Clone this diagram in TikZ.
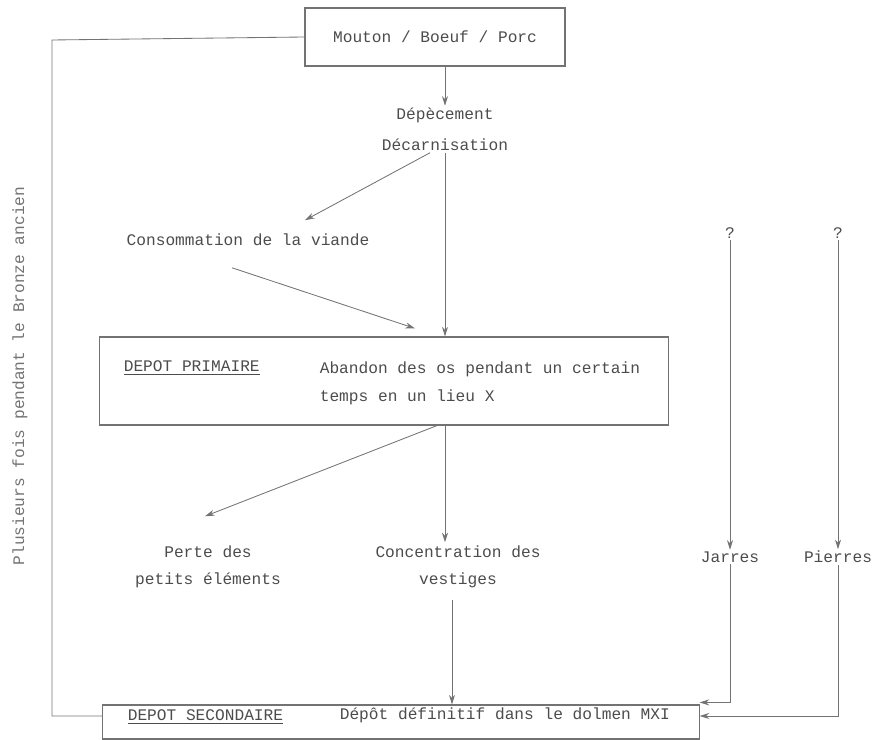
\documentclass[tikz,border=0pt]{standalone}
\usepackage{fontspec}
\setmonofont{Liberation Mono}
\usetikzlibrary{calc,positioning,arrows.meta}

\begin{document}
\begin{tikzpicture}
	[x=0.025cm,y=-0.025cm,>={Stealth[length=2.4mm,width=1.5mm]},gray!90!black,line width=0.6pt,
	every node/.style={font=\ttfamily\fontsize{11.5}{14}\selectfont,text=black!70,inner sep=1pt},
	boite/.style={draw,thick,minimum width=#1,inner sep=0pt},
	fleche/.style={->}]

	\useasboundingbox (0,0) rectangle (874,740);

	% boites
	\node[boite=6.5cm,minimum height=1.45cm] (animaux) at (435,37) {Mouton / Boeuf / Porc};
	\node[boite=14.2cm,minimum height=2.2cm] (primaire) at (384,381) {};
	\node[boite=14.9cm,minimum height=0.85cm] (secondaire) at (401,722) {};

	% textes
	\node (depec) at (445,115) {Dépècement};
	\node (decarn) at (445,145) {Décarnisation};
	\node (conso) at (248,240) {Consommation de la viande};
	\node[anchor=west] (titreI) at (122,368) {\underline{DEPOT PRIMAIRE}};
	\node[anchor=west,align=left] (abandon) at (318,383)
		{Abandon des os pendant un certain\\[6pt]temps en un lieu X};
	\node[align=center] (perte) at (208,567) {Perte des\\[5pt]petits éléments};
	\node[align=center] (concentr) at (458,567) {Concentration des\\[5pt]vestiges};
	\node (q1) at (730,233) {?};
	\node (q2) at (838,233) {?};
	\node (jarres) at (730,557) {Jarres};
	\node (pierres) at (838,557) {Pierres};
	\node[anchor=west] (titreII) at (126,717) {\underline{DEPOT SECONDAIRE}};
	\node[anchor=west] (definitif) at (338,715) {Dépôt définitif dans le dolmen MXI};
	\node[rotate=90,text=black!55] (repet) at (20,376) {Plusieurs fois pendant le Bronze ancien};

	% liaisons
	\coordinate (c1) at ($(concentr.south)+(-6,10)$);
	\draw[fleche] (animaux.south -| depec.north) -- (depec.north);
	\draw[fleche] ($(decarn.south)+(-15,0)$) -- ($(conso.north)+(57,-12)$);
	\draw[fleche] (decarn.south) -- (decarn.south |- primaire.north);
	\draw[fleche] ($(conso.south)+(-16,20)$) -- ($(primaire.north)+(31,-8)$);
	\draw[fleche] ($(primaire.south)+(53,0)$) -- ($(perte.north)+(-3,-28)$);
	\draw[fleche] ($(primaire.south)+(61,0)$) -- ($(concentr.north)+(-13,-2)$);
	\draw[fleche] (c1) -- (c1 |- secondaire.north);
	\path
	\foreach \depart/\arrivee in {q1/jarres,q2/pierres}{
		(\depart) edge[fleche] (\arrivee)
	};
	\draw[fleche] (jarres.south) |- ($(secondaire.north east)+(0,-2)$);
	\draw[fleche] (pierres.south) |- ($(secondaire.east)+(0,-6)$);
	\draw (animaux.west) -- (52,40) |- ($(secondaire.west)+(0,-6)$);
\end{tikzpicture}
\end{document}
